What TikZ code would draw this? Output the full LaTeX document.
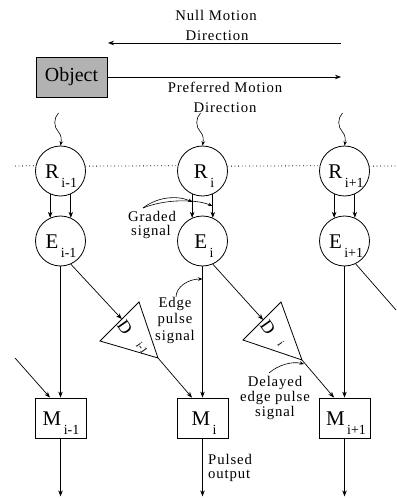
\documentclass[tikz,border=0pt]{standalone}
\usepackage{fontspec}
\setmainfont{Liberation Serif}
\newfontfamily\annfamily[LetterSpace=6]{Liberation Serif}
\usetikzlibrary{arrows.meta,calc}
\newcommand\annfont{\annfamily\fontsize{14.8}{16}\selectfont}
\newcommand\biglab[2]{{\fontsize{21}{21}\selectfont #1}\kern2.5bp\raisebox{-9bp}{\fontsize{14}{14}\selectfont #2}}
\tikzset{
  circ/.style={draw, circle, minimum size=50bp, inner sep=0pt, line width=0.8bp},
  mbox/.style={draw, rectangle, minimum width=51bp, minimum height=40bp, inner sep=0pt, line width=0.8bp},
  conn/.style={line width=0.7bp, -{Stealth[length=6bp,width=4.5bp]}},
  small/.style={line width=0.6bp, -{Stealth[length=4.5bp,width=3.5bp]}},
  plain/.style={line width=0.7bp},
  ann/.style={font=\annfont, inner sep=0pt, anchor=base},
  lab/.style={anchor=base, inner sep=0pt},
  tri/.style={draw, line width=0.8bp},
  dl/.style={inner sep=0pt, rotate=-55, font=\fontsize{18}{18}\selectfont},
  dsub/.style={inner sep=0pt, rotate=-55, font=\fontsize{11}{11}\selectfont},
}
\begin{document}
\begin{tikzpicture}[x=1bp,y=-1bp]
\useasboundingbox (0,0) rectangle (396,498);

% header
\node[draw, fill=gray!60, minimum width=71bp, minimum height=40bp, inner sep=0pt, line width=0.8bp,
      font=\fontsize{20}{20}\selectfont] (obj) at (71.5,77) {Object};
\coordinate (nullA) at (341,43);
\coordinate (nullB) at (108,43);
\coordinate (prefB) at (341,77);
\draw[conn] (nullA) -- (nullB);
\draw[conn] (obj.east) -- (prefB);
\node[ann] (t1) at (216,20.5) {Null Motion};
\node[ann] (t2) at (217,40.5) {Direction};
\node[ann] (t3) at (225,93) {Preferred Motion};
\node[ann] (t4) at (225,113) {Direction};

% R circles
\node[circ] (R1) at (60.5,171) {};
\node[circ] (R2) at (202.5,171) {};
\node[circ] (R3) at (344.5,171) {};
\node[lab] (lR1) at (61,178.5) {\biglab{R}{i-1}};
\node[lab] (lR2) at (204,178.5) {\biglab{R}{i}};
\node[lab] (lR3) at (346,178.5) {\biglab{R}{i+1}};

% E circles
\node[circ] (E1) at (60.5,241) {};
\node[circ] (E2) at (202.5,241) {};
\node[circ] (E3) at (344.5,241) {};
\node[lab] (lE1) at (61,248.5) {\biglab{E}{i-1}};
\node[lab] (lE2) at (204,248.5) {\biglab{E}{i}};
\node[lab] (lE3) at (346,248.5) {\biglab{E}{i+1}};

% M boxes
\node[mbox] (M1) at (60.5,418) {};
\node[mbox] (M2) at (202.5,418) {};
\node[mbox] (M3) at (344.5,418) {};
\node[lab] (lM1) at (61,425.5) {\biglab{M}{i-1}};
\node[lab] (lM2) at (204,425.5) {\biglab{M}{i}};
\node[lab] (lM3) at (346,425.5) {\biglab{M}{i+1}};

% dotted line
\coordinate (dl0) at (15,166);
\coordinate (dl1) at (396,166);
\tikzset{dotl/.style={line width=0.8bp, dash pattern=on 0.8bp off 2.8bp}}
\draw[dotl] (dl0) -- (R1.168.5);
\draw[dotl] (R1.11.5) -- (R2.168.5);
\draw[dotl] (R2.11.5) -- (R3.168.5);
\draw[dotl] (R3.11.5) -- (dl1);

% squiggle inputs
\foreach \n/\cx in {R1/60.5,R2/202.5,R3/344.5}{
  \draw[small] (\cx-2,113) .. controls (\cx-7,118) and (\cx-7,127) .. (\cx-2,132)
     .. controls (\cx+1,135) and (\cx+1,140) .. (\n.north);
}

% R -> E
\foreach \i in {1,2,3}{
  \draw[conn] (R\i.-114) -- (E\i.114);
  \draw[conn] (R\i.-66) -- (E\i.66);
}

% E -> M
\foreach \i in {1,2,3}{
  \draw[conn] (E\i.south) -- (M\i.north);
  \draw[conn] (M\i.south) -- ++(0,58);
}

% triangles
\coordinate (D1a) at (139,302);
\coordinate (D1b) at (100,341);
\coordinate (D1c) at (158,358);
\coordinate (D2a) at (281,302);
\coordinate (D2b) at (243,340);
\coordinate (D2c) at (302,360);
\draw[tri] (D1a) -- (D1b) -- (D1c) -- cycle;
\draw[tri] (D2a) -- (D2b) -- (D2c) -- cycle;
\node[dl] (lD1) at (125,327) {D};
\node[dl] (lD2) at (268,327) {D};
\node[dsub] (sD1) at (142,348) {i-1};
\node[dsub] (sD2) at (281,344) {i};

% E -> D
\draw[conn] (E1.-66) -- ($(D1a)!0.44!(D1b)$);
\draw[conn] (E2.-66) -- ($(D2a)!0.47!(D2b)$);

% D -> M
\draw[conn] (D1c) -- ($(M2.north)+(-10.5,0)$);
\draw[conn] (D2c) -- ($(M3.north)+(-10.5,0)$);
\coordinate (inL) at (15,358);
\draw[conn] (inL) -- ($(M1.north)+(-10.5,0)$);
\coordinate (outR) at (396,310);
\draw[plain] (E3.-64) -- (outR);

% annotations
\node[ann] (g1) at (152,221) {Graded};
\node[ann] (g2) at (151,235) {signal};
\coordinate (g0) at (143,208);
\draw[small] (g0) .. controls (157,197) and (177,195) .. (192.5,202);
\draw[small] (g0) .. controls (165,199) and (196,199) .. (212.5,206);

\node[ann] (e1) at (175,307) {Edge};
\node[ann] (e2) at (175,323.5) {pulse};
\node[ann] (e3) at (175,340) {signal};
\coordinate (e0) at (176,297);
\coordinate (e9) at (202.5,279);
\draw[small] (e0) .. controls (176,287) and (188,279) .. (e9);

\node[ann] (d1) at (275,386) {Delayed};
\node[ann] (d2) at (275,401.5) {edge pulse};
\node[ann] (d3) at (275,416) {signal};
\coordinate (d0) at (269,373);
\coordinate (d9) at (304,364);
\draw[small] (d0) .. controls (278,365) and (292,361) .. (d9);

\node[ann, anchor=base west] (p1) at (208,464) {Pulsed};
\node[ann, anchor=base west] (p2) at (208,478) {output};
\end{tikzpicture}
\end{document}
